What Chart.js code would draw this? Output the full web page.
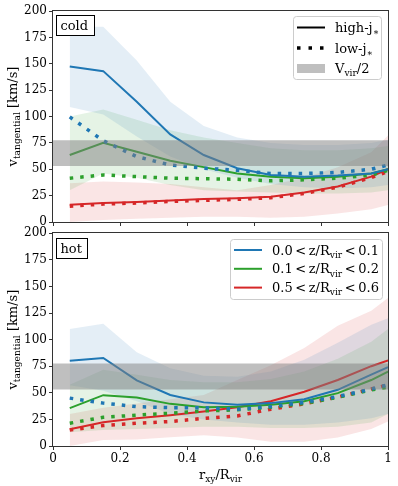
<!DOCTYPE html>
<html>
<head>
<meta charset="utf-8">
<script src="https://cdn.jsdelivr.net/npm/chart.js@4.4.0/dist/chart.umd.min.js"></script>
<style>
  body { margin: 0; background: #fff; width: 398px; height: 486px; position: relative; overflow: hidden; }
  canvas { position: absolute; left: 0; }
</style>
</head>
<body>
<canvas id="cold" width="398" height="232" style="top:0"></canvas>
<canvas id="hot" width="398" height="262" style="top:224px"></canvas>
<script>
// bin centres in r_xy / R_vir
const xs = [0.05, 0.15, 0.25, 0.35, 0.45, 0.55, 0.65, 0.75, 0.85, 0.95, 1.0];
const xTicks = [0, 0.2, 0.4, 0.6, 0.8, 1];
const yTicks = [0, 25, 50, 75, 100, 125, 150, 175, 200];
const virBand = [53, 77.5];  // V_vir / 2 range

// cold panel
const coldBlueHigh  = [147.5, 143, 114, 83, 63.5, 51, 44.6, 43, 44, 46, 50];
const coldBlueLow   = [99.6, 77, 62, 54, 51, 49, 46, 46, 47, 50, 54];
const coldGreenHigh = [63.5, 75, 66.6, 58, 52, 46, 43, 41.5, 43, 46, 50];
const coldGreenLow  = [41.5, 44.6, 43, 41.5, 41, 40.5, 39, 40, 41.5, 44.6, 49];
const coldRedHigh   = [16.3, 18, 19, 20.4, 21.7, 22.6, 24, 28, 33.6, 43, 50];
const coldRedLow    = [15, 17, 18, 19.5, 20.5, 21.5, 23, 27, 33, 42, 48];
const coldBlueUp    = [185, 185, 153, 114, 91, 80, 75, 73, 73, 75, 78];
const coldBlueDn    = [109, 102, 81, 62, 50, 42, 36, 33, 32, 33, 35];
const coldGreenUp   = [100, 106.6, 97, 87, 80, 75, 70, 68, 68, 70, 72];
const coldGreenDn   = [30, 46, 42, 35, 30, 29, 28, 27, 27, 28, 30];
const coldRedUp     = [36.8, 38.5, 37.5, 36, 33, 30, 35, 42, 52, 66, 82];
const coldRedDn     = [0, 2, 3, 4, 5, 5, 4, 5, 8, 12, 16];

// hot panel
const hotBlueHigh  = [80.2, 82.7, 61.7, 48, 41, 38.7, 40.3, 44, 52.8, 67, 74];
const hotBlueLow   = [45, 40.3, 37, 36, 36, 34.6, 37, 41, 46.5, 53.5, 57.5];
const hotGreenHigh = [35.6, 47.8, 45.6, 39.6, 36.5, 37, 38.7, 42, 49.7, 62, 70];
const hotGreenLow  = [21.4, 27, 29, 30.8, 33, 34, 36.5, 40, 45.8, 52.7, 55.4];
const hotRedHigh   = [15.7, 22.3, 26, 29, 32.4, 36.5, 42, 51, 62, 75, 80.5];
const hotRedLow    = [15, 19.2, 21.4, 23, 26, 28.3, 34.6, 39.6, 46, 53.5, 57.5];
const hotBlueUp    = [110, 115, 88, 73, 66, 65, 70, 81, 97, 114, 120];
const hotBlueDn    = [57, 52, 42, 30, 25, 22, 20, 20, 22, 26, 30];
const hotGreenUp   = [57.5, 71.7, 67, 62, 60, 60, 63, 70, 82, 98, 110];
const hotGreenDn   = [13, 15, 16, 17, 18, 18, 17, 17, 18, 22, 30];
const hotRedUp     = [30, 36, 40, 44, 48, 62, 76, 92, 113, 127, 139];
const hotRedDn     = [0, 5.6, 6, 8.2, 10, 8, 4, 4, 8, 16, 23];

const BLUE = '#1f77b4', GREEN = '#2ca02c', RED = '#d62728';
const FONT = "'DejaVu Serif', serif";

Chart.defaults.font.family = FONT;
Chart.defaults.font.size = 12;
Chart.defaults.color = '#000';

const pts = arr => arr.map((v, i) => ({ x: xs[i], y: v }));

function alpha(hex, a) {
  const n = parseInt(hex.slice(1), 16);
  return `rgba(${n >> 16},${(n >> 8) & 255},${n & 255},${a})`;
}

function makeDatasets(d) {
  const sets = [];
  // V_vir/2 band on top
  sets.push({ data: [{ x: 0, y: virBand[0] }, { x: 1, y: virBand[0] }], borderWidth: 0, order: 0 });
  sets.push({ data: [{ x: 0, y: virBand[1] }, { x: 1, y: virBand[1] }], borderWidth: 0, order: 0,
              fill: '-1', backgroundColor: 'rgba(128,128,128,0.5)' });
  const cols = [[BLUE, d.blue], [GREEN, d.green], [RED, d.red]];
  cols.forEach(([c, s]) => {
    sets.push({ data: pts(s.high), borderColor: c, borderWidth: 2, order: 1 });
    sets.push({ data: pts(s.low), borderColor: c, borderWidth: 3.5, borderDash: [3.5, 7], borderCapStyle: 'butt', order: 1 });
  });
  cols.forEach(([c, s]) => {
    sets.push({ data: pts(s.dn), borderWidth: 0, order: 2 });
    sets.push({ data: pts(s.up), borderWidth: 0, order: 2, fill: '-1', backgroundColor: alpha(c, 0.12) });
  });
  return sets;
}

function rich(ctx, parts, x, y, size, align) {
  const sub = size * 0.7;
  let w = 0;
  parts.forEach(p => { ctx.font = (p[1] ? sub : size) + 'px ' + FONT; w += ctx.measureText(p[0]).width; });
  let cx = align === 'center' ? x - w / 2 : x;
  ctx.textAlign = 'left';
  ctx.textBaseline = 'alphabetic';
  parts.forEach(p => {
    ctx.font = (p[1] ? sub : size) + 'px ' + FONT;
    ctx.fillText(p[0], cx, y + (p[1] ? size * 0.25 : 0));
    cx += ctx.measureText(p[0]).width;
  });
}

function roundBox(ctx, x, y, w, h, r) {
  ctx.beginPath();
  ctx.moveTo(x + r, y);
  ctx.arcTo(x + w, y, x + w, y + h, r);
  ctx.arcTo(x + w, y + h, x, y + h, r);
  ctx.arcTo(x, y + h, x, y, r);
  ctx.arcTo(x, y, x + w, y, r);
  ctx.closePath();
}

const decor = {
  id: 'decor',
  afterDraw(chart, args, opts) {
    const ctx = chart.ctx;
    const a = chart.chartArea;
    ctx.save();
    // frame
    ctx.strokeStyle = '#333';
    ctx.lineWidth = 1;
    ctx.strokeRect(Math.round(a.left) - 0.5, Math.round(a.top) - 0.5,
                   Math.round(a.right - a.left) + 1, Math.round(a.bottom - a.top) + 1);
    ctx.fillStyle = '#000';
    // y label
    ctx.save();
    ctx.translate(17, (a.top + a.bottom) / 2);
    ctx.rotate(-Math.PI / 2);
    rich(ctx, [['v', 0], ['tangential', 1], [' [km/s]', 0]], 0, 0, 13, 'center');
    ctx.restore();
    // panel tag
    const t = opts.tag;
    ctx.fillStyle = '#fff';
    ctx.fillRect(t.x, t.y, t.w, t.h);
    ctx.strokeStyle = '#000';
    ctx.strokeRect(t.x + 0.5, t.y + 0.5, t.w, t.h);
    ctx.fillStyle = '#000';
    ctx.font = '13px ' + FONT;
    ctx.textAlign = 'left';
    ctx.fillText(t.text, t.x + 4.5, t.y + 15);
    // legend
    const L = opts.legend;
    ctx.fillStyle = 'rgba(255,255,255,0.8)';
    roundBox(ctx, L.x + 0.5, L.y + 0.5, L.w, L.h, 3);
    ctx.fill();
    ctx.strokeStyle = '#ccc';
    ctx.stroke();
    L.items.forEach((it, i) => {
      const y = L.y + L.row0 + i * L.dy;
      const x0 = L.x + 4, x1 = L.x + 32;
      ctx.setLineDash([]);
      if (it.kind === 'patch') {
        ctx.fillStyle = 'rgba(128,128,128,0.5)';
        ctx.fillRect(x0, y - 4.5, x1 - x0, 9);
      } else {
        ctx.strokeStyle = it.color;
        ctx.lineWidth = it.kind === 'dot' ? 3.5 : 2;
        if (it.kind === 'dot') ctx.setLineDash([3.5, 8]);
        ctx.beginPath();
        ctx.moveTo(x0, y);
        ctx.lineTo(x1, y);
        ctx.stroke();
      }
      ctx.setLineDash([]);
      ctx.fillStyle = '#000';
      rich(ctx, it.text, L.x + L.tx, y + 4.5, 13, 'left');
    });
    // x label
    if (opts.xlabel) {
      rich(ctx, [['r', 0], ['xy', 1], ['/R', 0], ['vir', 1]], (a.left + a.right) / 2, a.bottom + 33, 13, 'center');
    }
    ctx.restore();
  }
};

function makeChart(id, d, o) {
  return new Chart(document.getElementById(id), {
    type: 'line',
    data: { datasets: makeDatasets(d) },
    options: {
      responsive: false,
      animation: false,
      events: [],
      layout: { padding: { top: o.top, right: 10, left: 0, bottom: 0 } },
      elements: { point: { radius: 0 }, line: { tension: 0 } },
      scales: {
        x: {
          type: 'linear', min: 0, max: 1,
          afterBuildTicks: s => { s.ticks = xTicks.map(v => ({ value: v })); },
          ticks: {
            display: o.xlabels, maxRotation: 0, autoSkip: false, padding: 2,
            callback: v => (v === 0 ? '0' : v === 1 ? '1' : v.toFixed(1))
          },
          grid: { drawOnChartArea: false, tickLength: 4, tickColor: '#333' },
          border: { display: false },
          afterFit: s => { s.height = o.xh; }
        },
        y: {
          min: 0, max: 200,
          afterBuildTicks: s => { s.ticks = yTicks.map(v => ({ value: v })); },
          ticks: { padding: 2 },
          grid: { drawOnChartArea: false, tickLength: 4, tickColor: '#333' },
          border: { display: false },
          afterFit: s => { s.width = 53; }
        }
      },
      plugins: {
        legend: { display: false },
        tooltip: { enabled: false },
        decor: o.decor
      }
    },
    plugins: [decor]
  });
}

makeChart('cold', {
  blue:  { high: coldBlueHigh,  low: coldBlueLow,  up: coldBlueUp,  dn: coldBlueDn },
  green: { high: coldGreenHigh, low: coldGreenLow, up: coldGreenUp, dn: coldGreenDn },
  red:   { high: coldRedHigh,   low: coldRedLow,   up: coldRedUp,   dn: coldRedDn }
}, {
  top: 11, xh: 10, xlabels: false,
  decor: {
    tag: { x: 56, y: 15, w: 38, h: 20, text: 'cold' },
    legend: {
      x: 293, y: 16, w: 88, h: 63, row0: 11.5, dy: 20.5, tx: 42,
      items: [
        { kind: 'line', color: '#000', text: [['high-j', 0], ['\u2217', 1]] },
        { kind: 'dot', color: '#000', text: [['low-j', 0], ['\u2217', 1]] },
        { kind: 'patch', text: [['V', 0], ['vir', 1], ['/2', 0]] }
      ]
    },
    xlabel: false
  }
});

makeChart('hot', {
  blue:  { high: hotBlueHigh,  low: hotBlueLow,  up: hotBlueUp,  dn: hotBlueDn },
  green: { high: hotGreenHigh, low: hotGreenLow, up: hotGreenUp, dn: hotGreenDn },
  red:   { high: hotRedHigh,   low: hotRedLow,   up: hotRedUp,   dn: hotRedDn }
}, {
  top: 9, xh: 40, xlabels: true,
  decor: {
    tag: { x: 56, y: 14, w: 31, h: 20, text: 'hot' },
    legend: {
      x: 230, y: 15, w: 152, h: 60, row0: 11, dy: 18.8, tx: 42,
      items: [
        { kind: 'line', color: BLUE, text: [['0.0\u2009<\u2009z/R', 0], ['vir', 1], ['\u2009<\u20090.1', 0]] },
        { kind: 'line', color: GREEN, text: [['0.1\u2009<\u2009z/R', 0], ['vir', 1], ['\u2009<\u20090.2', 0]] },
        { kind: 'line', color: RED, text: [['0.5\u2009<\u2009z/R', 0], ['vir', 1], ['\u2009<\u20090.6', 0]] }
      ]
    },
    xlabel: true
  }
});
</script>
</body>
</html>
